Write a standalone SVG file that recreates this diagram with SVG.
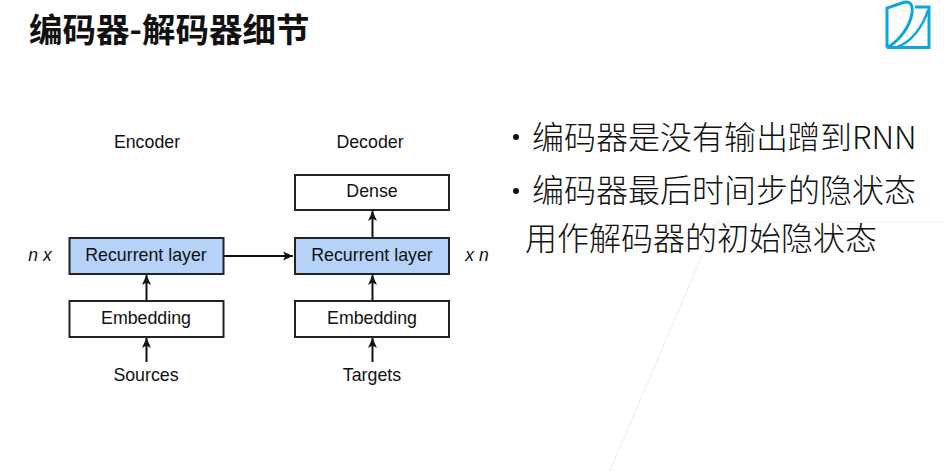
<svg xmlns="http://www.w3.org/2000/svg" width="944" height="471" viewBox="0 0 944 471">
<style>
.l{font-family:"Liberation Sans",Arial,sans-serif;font-size:17.800px;fill:#111;text-anchor:middle}
.i{font-style:italic;font-size:17.500px}
.c{font-family:"Noto Sans CJK SC",sans-serif;font-size:32px;fill:#111;font-weight:300}
.t{font-family:"Noto Sans CJK SC",sans-serif;font-size:33.500px;fill:#111;font-weight:700}
.w{fill:#fff;stroke:#222;stroke-width:2}
.b{fill:#b5d2f8;stroke:#222;stroke-width:2}
.a{stroke:#111;stroke-width:2;fill:none;marker-end:url(#h)}
</style>
<defs><marker id="h" markerUnits="userSpaceOnUse" markerWidth="12" markerHeight="10" refX="10" refY="5" orient="auto"><path d="M0 0.500L10 5L0 9.500L2.500 5Z" fill="#111"/></marker></defs>
<rect width="944" height="471" fill="#fff"/>
<g id="background" fill="none" stroke="#ededed" stroke-width="1"><path d="M944 222H716.500L610 471"/></g>
<text class="t" x="29" y="42">编码器-解码器细节</text>
<g id="logo" fill="none" stroke="#0ea5df" stroke-width="3"><path d="M887 47.500V8L902 3C910 0 913 4 912 13C910 27 899 41 887 47.500H929V7H915"/><path d="M896 47.500C912 42 923 26 928 10" stroke-width="2.500"/></g>
<g id="encoder-title"><text class="l" x="147" y="148">Encoder</text></g>
<g id="decoder-title"><text class="l" x="370" y="148">Decoder</text></g>
<g id="n-x"><text class="l i" x="40" y="261">n x</text></g>
<g id="x-n"><text class="l i" x="477" y="261">x n</text></g>
<g id="encoder-recurrent"><rect class="b" x="69.500" y="238" width="154" height="36"/><text class="l" x="146" y="261">Recurrent layer</text></g>
<g id="encoder-embedding"><rect class="w" x="69.500" y="301" width="154" height="36"/><text class="l" x="146" y="324">Embedding</text></g>
<g id="sources"><text class="l" x="146" y="381">Sources</text></g>
<g id="decoder-dense"><rect class="w" x="295" y="175" width="154" height="35"/><text class="l" x="372" y="197">Dense</text></g>
<g id="decoder-recurrent"><rect class="b" x="295" y="238" width="154" height="36"/><text class="l" x="372" y="261">Recurrent layer</text></g>
<g id="decoder-embedding"><rect class="w" x="295" y="301" width="154" height="36"/><text class="l" x="372" y="324">Embedding</text></g>
<g id="targets"><text class="l" x="372" y="381">Targets</text></g>
<g id="connectors">
<path class="a" d="M146.500 301V275"/><path class="a" d="M146.500 362V338"/><path class="a" d="M224 256H293"/>
<path class="a" d="M372.500 301V275"/><path class="a" d="M372.500 362V338"/><path class="a" d="M372.500 238V211"/>
</g>
<g id="bullets">
<circle cx="516" cy="137" r="3" fill="#111"/><circle cx="516" cy="191" r="3" fill="#111"/>
<text class="c" x="532" y="149">编码器是没有输出蹭到RNN</text>
<text class="c" x="532" y="202">编码器最后时间步的隐状态</text>
<text class="c" x="525" y="250">用作解码器的初始隐状态</text>
</g>
</svg>
